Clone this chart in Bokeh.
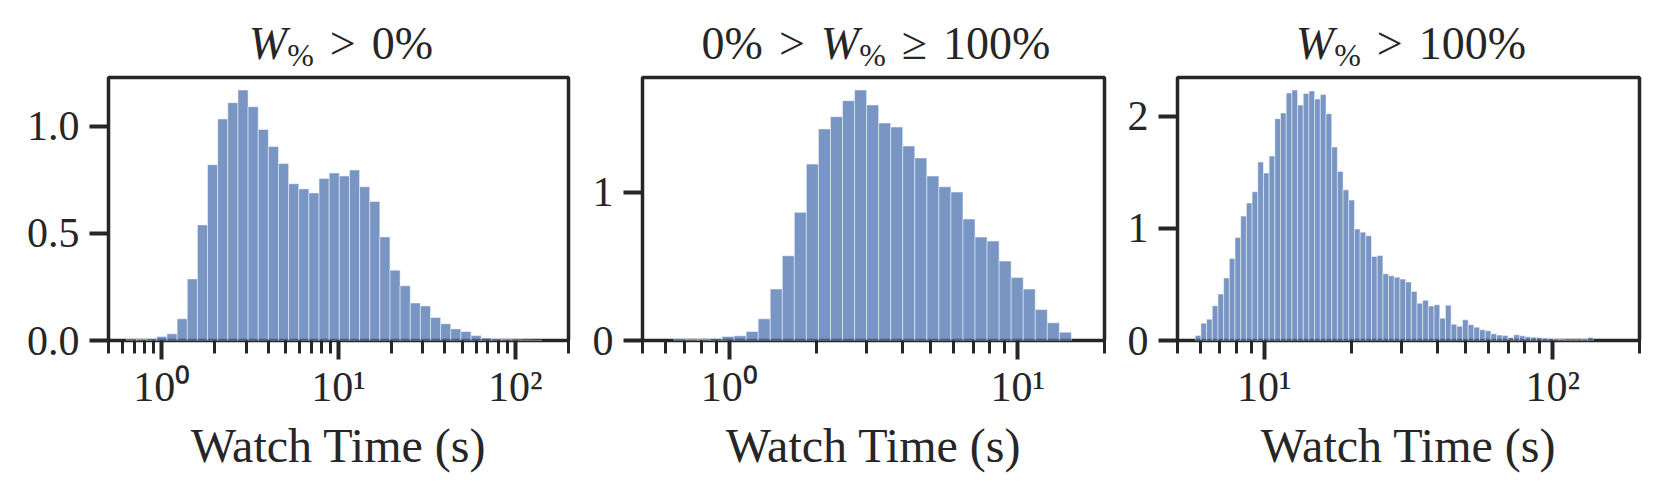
import numpy as np
from bokeh.plotting import figure
from bokeh.layouts import row, column
from bokeh.models import Range1d, FixedTicker, CustomJSTickFormatter, PrintfTickFormatter, Div
from bokeh.embed import file_html
from bokeh.resources import INLINE

# ---------------- data (densities of log10 watch time) ----------------
# Panel 1: W% > 0%
p1_log_start = -0.1994      # log10 of first bin's left edge (s)
p1_log_step = 0.05733       # bin width in decades
p1_density = [0.008, 0.005, 0.008, 0.019, 0.031, 0.101, 0.287, 0.539, 0.820, 1.033,
              1.109, 1.168, 1.090, 0.984, 0.905, 0.825, 0.731, 0.707, 0.688, 0.756,
              0.781, 0.767, 0.795, 0.717, 0.648, 0.483, 0.328, 0.255, 0.175, 0.161,
              0.107, 0.078, 0.054, 0.042, 0.023, 0.012, 0.008, 0.005, 0.003, 0.002, 0.001]

# Panel 2: 0% > W% >= 100%
p2_log_start = -0.1922
p2_log_step = 0.04177
p2_density = [0.011, 0.007, 0.007, 0.014, 0.027, 0.032, 0.061, 0.146, 0.347, 0.572,
              0.865, 1.191, 1.428, 1.511, 1.619, 1.691, 1.590, 1.468, 1.441, 1.313,
              1.232, 1.110, 1.038, 1.002, 0.820, 0.698, 0.671, 0.536, 0.426, 0.347,
              0.209, 0.119, 0.056]

# Panel 3: W% > 100%
p3_log_start = 0.7604
p3_log_step = 0.01972
p3_density = [0.045, 0.155, 0.190, 0.310, 0.414, 0.557, 0.732, 0.920, 1.110, 1.226,
              1.327, 1.592, 1.494, 1.646, 1.979, 2.030, 2.208, 2.235, 2.101, 2.205,
              2.226, 2.155, 2.196, 2.024, 1.726, 1.509, 1.345, 1.253, 0.994, 0.967,
              0.935, 0.750, 0.759, 0.595, 0.577, 0.565, 0.548, 0.521, 0.438, 0.333,
              0.360, 0.307, 0.318, 0.199, 0.315, 0.146, 0.128, 0.185, 0.140, 0.119,
              0.095, 0.086, 0.060, 0.048, 0.045, 0.027, 0.051, 0.042, 0.033, 0.030,
              0.027, 0.021, 0.018, 0.012, 0.009, 0.006, 0.006, 0.006, 0.012, 0.027]

# titles as (text, kind) pieces: it = italic, sub = subscript, rel = relation, rm = roman
titles = [
    [("W", "it"), ("%", "sub"), (">", "rel"), ("0%", "rm")],
    [("0%", "rm"), (">", "rel"), ("W", "it"), ("%", "sub"), ("\u2265", "rel"), ("100%", "rm")],
    [("W", "it"), ("%", "sub"), (">", "rel"), ("100%", "rm")],
]
x_limits = [(0.5, 200), (0.5, 20), (5, 200)]
x_major = [[1, 10, 100], [1, 10], [10, 100]]
x_minor = [
    [0.5, 0.6, 0.7, 0.8, 0.9, 2, 3, 4, 5, 6, 7, 8, 9, 20, 30, 40, 50, 60, 70, 80, 90, 200],
    [0.5, 0.6, 0.7, 0.8, 0.9, 2, 3, 4, 5, 6, 7, 8, 9, 20],
    [5, 6, 7, 8, 9, 20, 30, 40, 50, 60, 70, 80, 90, 200],
]
y_ticks = [[0, 0.5, 1.0], [0, 1], [0, 1, 2]]
y_formats = ["%.1f", "%d", "%d"]
x_label = "Watch Time (s)"

panels = [
    (p1_log_start, p1_log_step, p1_density),
    (p2_log_start, p2_log_step, p2_density),
    (p3_log_start, p3_log_step, p3_density),
]

# ---------------- style / layout ----------------
INK = "#262626"
FONT = "Liberation Serif"
BAR = "#4c72b0"
F_TITLE = 46
F_SUB = 32
F_TICK = 42
F_LABEL = 48
REL_PAD = 16
borders = [(108, 4), (70, 4), (69, 16)]
frame_w = [460, 462, 462]
frame_h = 263
TITLE_H = 72          # height of the title strip
TITLE_TOP = 21        # top of the title line box inside the strip
SUB_DROP = 7
B_TOP = 5
B_BOTTOM = 140

sup_js = """
const sup = {"0": "\\u2070", "1": "\\u00b9", "2": "\\u00b2", "3": "\\u00b3", "-": "\\u207b"};
const e = Math.round(Math.log10(tick));
return "10" + String(e).split("").map(c => sup[c]).join("");
"""


def esc(s):
    return s.replace("&", "&amp;").replace("<", "&lt;").replace(">", "&gt;")


def title_html(pieces, left, width):
    parts = []
    for s, kd in pieces:
        if kd == "it":
            parts.append(f'<span style="font-style:italic">{esc(s)}</span>')
        elif kd == "sub":
            parts.append(f'<span style="font-size:{F_SUB}px;position:relative;top:{SUB_DROP}px">{esc(s)}</span>')
        elif kd == "rel":
            parts.append(f'<span style="padding:0 {REL_PAD}px">{esc(s)}</span>')
        else:
            parts.append(esc(s))
    inner = "".join(parts)
    return (f'<div style="position:absolute;left:{left}px;width:{width}px;top:{TITLE_TOP}px;'
            f'text-align:center;white-space:nowrap;font-family:\'{FONT}\';font-size:{F_TITLE}px;'
            f'line-height:{F_TITLE}px;color:{INK};margin:0;padding:0">{inner}</div>')


cols = []
for k, (start, step, dens) in enumerate(panels):
    dens = np.array(dens)
    n = len(dens)
    edges = 10 ** (start + step * np.arange(n + 1))
    lo, hi = x_limits[k]
    ytop = dens.max() * 1.05
    bl, br = borders[k]
    W = bl + frame_w[k] + br

    # ---- title strip ----
    t = Div(text=title_html(titles[k], bl + 3, frame_w[k]), width=W, height=TITLE_H,
            styles={"position": "relative", "margin": "0", "padding": "0", "overflow": "visible"})

    # ---- histogram ----
    p = figure(width=W, height=B_TOP + frame_h + B_BOTTOM,
               x_axis_type="log", x_range=Range1d(lo, hi), y_range=Range1d(0, ytop),
               output_backend="svg", toolbar_location=None, title=None,
               min_border_left=bl, min_border_right=br,
               min_border_top=B_TOP, min_border_bottom=B_BOTTOM,
               background_fill_color="white", border_fill_color="white")
    p.quad(left=edges[:-1], right=edges[1:], bottom=0, top=dens,
           fill_color=BAR, fill_alpha=0.75, line_color="white", line_alpha=0.6, line_width=0.8)

    p.xgrid.visible = False
    p.ygrid.visible = False
    p.outline_line_color = INK
    p.outline_line_width = 3.5
    p.outline_line_alpha = 1.0

    xa = p.xaxis[0]
    ya = p.yaxis[0]
    xa.ticker = FixedTicker(ticks=x_major[k], minor_ticks=x_minor[k])
    xa.formatter = CustomJSTickFormatter(code=sup_js)
    ya.ticker = FixedTicker(ticks=y_ticks[k])
    ya.formatter = PrintfTickFormatter(format=y_formats[k])
    for ax in (xa, ya):
        ax.axis_line_color = None
        ax.major_tick_line_color = INK
        ax.major_tick_line_width = 4
        ax.major_tick_out = 19
        ax.major_tick_in = 0
        ax.minor_tick_line_color = INK
        ax.minor_tick_line_width = 3
        ax.minor_tick_out = 13
        ax.minor_tick_in = 0
        ax.major_label_text_font = FONT
        ax.major_label_text_font_size = f"{F_TICK}px"
        ax.major_label_text_color = INK
    ya.minor_tick_line_color = None
    ya.major_label_standoff = 10
    xa.major_label_standoff = 4
    xa.axis_label = x_label
    xa.axis_label_text_font = FONT
    xa.axis_label_text_font_size = f"{F_LABEL}px"
    xa.axis_label_text_font_style = "normal"
    xa.axis_label_text_color = INK
    xa.axis_label_standoff = 6

    cols.append(column(t, p))

layout = row(*cols)
open("out.html", "w").write(file_html(layout, INLINE))
